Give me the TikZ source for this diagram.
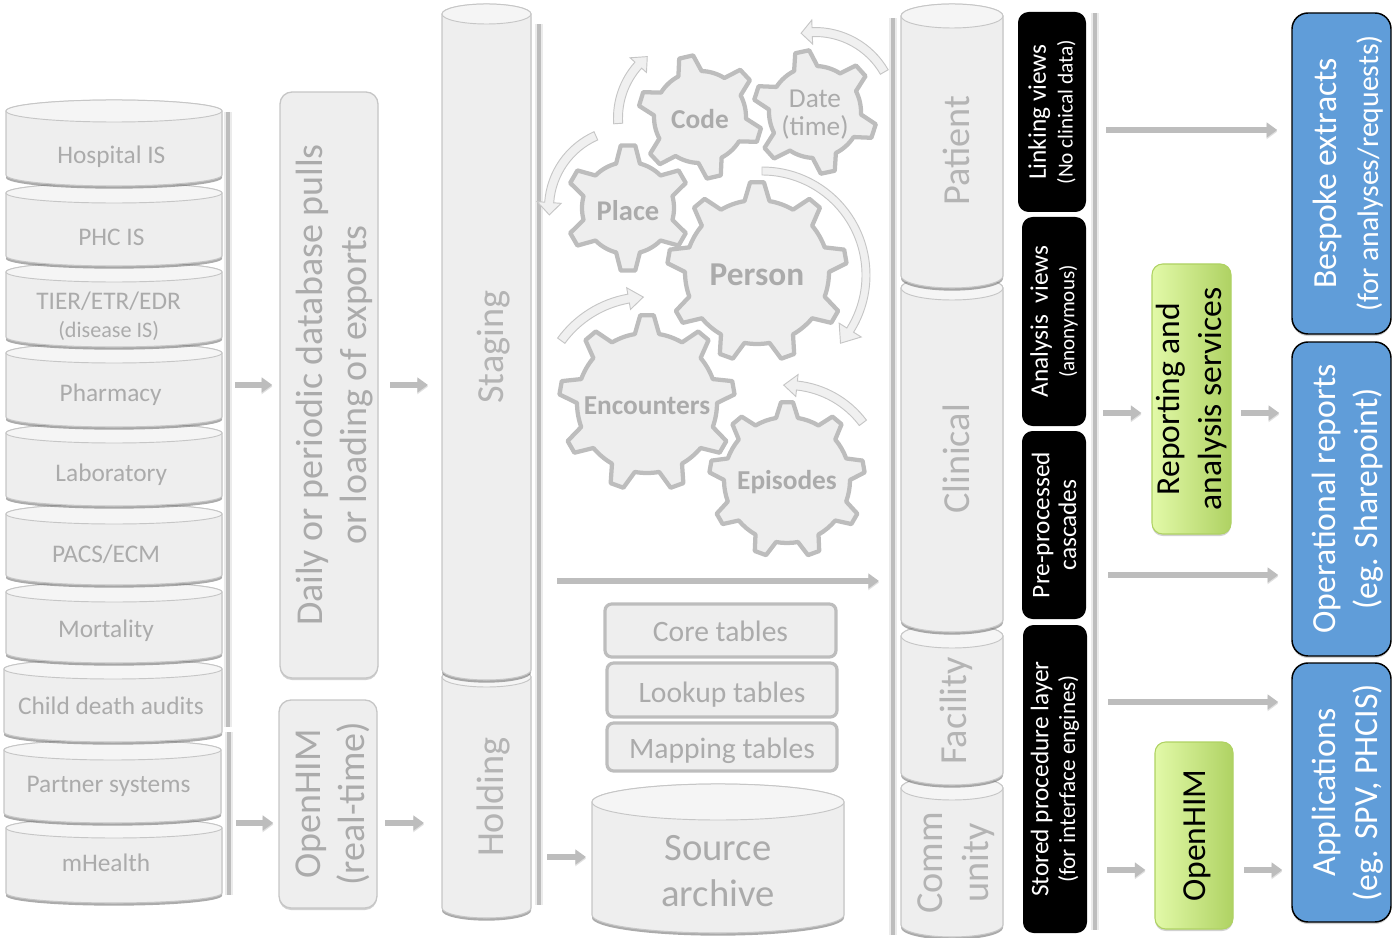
\documentclass[tikz,border=0pt]{standalone}
\usepackage{fontspec}
\usepackage{xcolor}
\setmainfont{Carlito}
\usetikzlibrary{arrows.meta,shadows}

\definecolor{panelGrey}{HTML}{EEEEEE}
\definecolor{lidGrey}{HTML}{F5F5F5}
\definecolor{edgeGrey}{HTML}{C6C6C6}
\definecolor{barGrey}{HTML}{BDBDBD}
\definecolor{labelGrey}{HTML}{ABABAB}
\definecolor{blueBox}{HTML}{609DD9}
\definecolor{greenLight}{HTML}{E2F9A8}
\definecolor{greenDark}{HTML}{AFD263}

% name, x0, x1, y of lid, y of base, lid radius, y of label, label
\newcommand{\drum}[9][]{
  \node (#2) [drumspot,minimum width={(#4-#3)*0.75pt},minimum height={(#6-#5)*0.75pt}] at ({(#3+#4)/2},{(#5+#6)/2}) {};
  \filldraw[drumbody] (#3,#5) -- (#3,#6-#7) arc[start angle=180,end angle=0,x radius={(#4-#3)/2},y radius=#7]
     -- (#4,#5) arc[start angle=0,end angle=-180,x radius={(#4-#3)/2},y radius=#7] -- cycle;
  \filldraw[drumlid] ({(#3+#4)/2},#5) ellipse[x radius={(#4-#3)/2},y radius=#7];
  \node (#2-label) [drumlabel,#1] at ({(#3+#4)/2},#8) {#9};
}
% name, cx, cy, body radius, tip radius, teeth, first tooth, label
\newcommand{\gear}[8]{
  \pgfmathsetmacro{\gs}{360/#6}
  \filldraw[gearbody,shift={(#2,#3)}] ({#7-0.25*\gs}:#4)
    \foreach \t in {0,...,\numexpr#6-1\relax}{
      -- ({#7+\t*\gs-0.11*\gs}:#5) -- ({#7+\t*\gs+0.11*\gs}:#5) -- ({#7+\t*\gs+0.25*\gs}:#4)
      arc[start angle={#7+\t*\gs+0.25*\gs},end angle={#7+\t*\gs+0.75*\gs},radius=#4]
    } -- cycle;
  \node (#1) [gearlabel] at (#2,#3) {#8};
}
% cx, cy, radius, tail angle, head angle, tip angle, band width, head half width
\newcommand{\bent}[8]{
  \filldraw[bentarrow,shift={(#1,#2)}] (#4:#3+#7/2) arc[start angle=#4,end angle=#5,radius=#3+#7/2]
    -- (#5:#3+#8) -- (#6:#3) -- (#5:#3-#8) -- (#5:#3-#7/2)
    arc[start angle=#5,end angle=#4,radius=#3-#7/2] -- cycle;
}

\begin{document}
\begin{tikzpicture}[x=0.75pt,y=-0.75pt,
   drumspot/.style={inner sep=0pt,outer sep=0pt},
   drumbody/.style={fill=panelGrey,draw=edgeGrey,line width=0.8pt,
      drop shadow={shadow xshift=0pt,shadow yshift=-2pt,opacity=0.55,fill=black!60}},
   drumlid/.style={fill=lidGrey,draw=edgeGrey,line width=0.7pt},
   drumlabel/.style={text=labelGrey,align=center,font=\fontsize{19}{21}\selectfont},
   tall/.style={rotate=90,yshift=-3pt,font=\fontsize{28.7}{35}\selectfont,text=labelGrey!90},
   graybox/.style={rotate=90,draw=edgeGrey,fill=panelGrey,line width=1pt,rounded corners=9pt,
      align=center,text=labelGrey,inner sep=0pt,font=\fontsize{28.5}{33}\selectfont,
      drop shadow={shadow xshift=0pt,shadow yshift=-1.5pt,opacity=0.3,fill=black!60}},
   tablebox/.style={draw=barGrey,fill=panelGrey,line width=2.4pt,rounded corners=5pt,
      text=labelGrey,inner sep=0pt,text depth=4pt,font=\fontsize{22.2}{26}\selectfont},
   viewbox/.style={rotate=90,fill=black,rounded corners=8pt,align=center,text=white,inner sep=0pt,
      font=\fontsize{19}{20}\selectfont},
   greenbox/.style={rotate=90,draw=greenDark,line width=0.8pt,left color=greenLight,right color=greenDark,
      rounded corners=8pt,align=center,text=black,inner sep=0pt,font=\fontsize{25.2}{31}\selectfont,
      drop shadow={shadow xshift=0pt,shadow yshift=-1.5pt,opacity=0.3,fill=black!60}},
   bluebox/.style={rotate=90,draw=black,fill=blueBox,line width=1.1pt,rounded corners=12pt,
      align=center,text=white,inner sep=0pt,font=\fontsize{25.3}{31.5}\selectfont,
      drop shadow={shadow xshift=0pt,shadow yshift=-1.5pt,opacity=0.3,fill=black!60}},
   sidebar/.style={draw=barGrey,line width=3.6pt,preaction={draw=black!8,line width=5.5pt}},
   gearbody/.style={fill=panelGrey,draw=barGrey,line width=3.2pt,line join=round},
   gearlabel/.style={text=labelGrey,align=center,inner sep=0pt,yshift=-1.8pt,font=\fontsize{20.5}{21}\selectfont},
   bentarrow/.style={fill=black!6,draw=edgeGrey,line width=0.7pt,line join=miter},
   flow/.style={draw=barGrey,line width=4.5pt,-{Triangle[length=8pt,width=11pt]},
      preaction={draw=black!12,transform canvas={yshift=-1.2pt}}}]
\useasboundingbox (0,0) rectangle (1393,938);

% grey bars
\draw[sidebar] (228,112) -- (228,727);
\draw[sidebar] (229,732) -- (229,895);
\draw[sidebar] (539,24) -- (539,905);
\draw[sidebar] (893,18) -- (893,935);
\draw[sidebar] (1095,13) -- (1095,930);

% source systems, bottom first
\drum[xshift=-6pt]{mhealth}{6}{222}{828}{903}{10}{863}{mHealth}
\drum[xshift=-3pt]{partner}{4}{221}{750}{823}{10}{786}{Partner systems}
\drum[xshift=-1.5pt]{audits}{4}{222}{669}{742}{10}{706}{Child death audits}
\drum[xshift=-6pt]{mortality}{6}{222}{592}{663}{10}{631}{Mortality}
\drum[xshift=-6pt]{pacs}{6}{222}{514}{585}{10}{554}{PACS/ECM}
\drum[xshift=-2pt]{laboratory}{6}{222}{433}{506}{10}{475}{Laboratory}
\drum[xshift=-2.5pt]{pharmacy}{6}{222}{353}{427}{10}{395}{Pharmacy}
\drum[xshift=-4pt]{tier}{6}{222}{272}{347}{10}{316}{TIER/ETR/EDR\\{\fontsize{16.6}{21}\selectfont (disease IS)}}
\drum[xshift=-2pt]{phc}{6}{222}{193}{266}{10}{237}{PHC IS}
\drum[xshift=-2pt]{hospital}{6}{222}{111}{186}{11}{157}{Hospital IS}

\node (pulls) [graybox,minimum width=439.5pt,minimum height=73.5pt] at (329,385) {\rule{0pt}{27.5pt}Daily or periodic database pulls\\or loading of exports};
\node (realtime) [graybox,minimum width=156pt,minimum height=73.5pt] at (328,804) {\rule{0pt}{26pt}OpenHIM\\(real-time)};

\drum[tall,yshift=-2.5pt]{holding}{442}{531}{677}{918}{10}{797}{Holding}
\drum[tall,yshift=-2.5pt]{staging}{442}{531}{14}{680}{10}{347}{Staging}

% the gears
\gear{code}{700}{117}{46}{62}{6}{17}{\textbf{Code}}
\gear{date}{815}{112}{46}{62}{6}{18}{Date\\(time)}
\gear{place}{628}{208}{46}{63}{6}{30}{\fontsize{21.4}{23}\selectfont\textbf{Place}}
\gear{person}{757}{272}{72}{90}{9}{30}{\fontsize{25}{27}\selectfont\textbf{Person}}
\gear{encounters}{647}{403}{70}{88}{9}{30}{\textbf{Encounters}}
\gear{episodes}{787}{480}{63}{78}{9}{30}{\textbf{Episodes}}

\bent{815}{112}{80}{330}{268}{260}{9}{12}
\bent{697}{118}{79}{176}{222}{231}{9}{11}
\bent{628}{208}{79}{246}{184}{175}{9}{12}
\bent{762}{275}{104}{270}{392}{401}{8}{13}
\bent{647}{403}{106}{216}{260}{268}{9}{11}
\bent{787}{480}{95}{323}{276}{268}{9}{11}

\node (core) [tablebox,text height=20pt,minimum width=173.25pt,minimum height=39.75pt] at (720.5,630.5) {Core tables};
\node (lookup) [tablebox,text height=22pt,minimum width=172.5pt,minimum height=40.5pt] at (722,690) {Lookup tables};
\node (mapping) [tablebox,text height=20.5pt,minimum width=172.5pt,minimum height=36pt] at (722,747) {Mapping tables};
\drum[font=\fontsize{29}{34}\selectfont]{archive}{592}{844}{802}{933}{18}{871}{Source\\archive}

% warehouse schemas, bottom first
\drum[tall,align=center]{community}{901}{1003}{788}{937}{12}{863}{Comm\\unity}
\drum[tall]{facility}{901}{1003}{636}{785}{12}{711}{Facility}
\drum[tall]{clinical}{901}{1003}{288}{632}{12}{459}{Clinical}
\drum[tall]{patient}{901}{1003}{16}{288}{12}{151}{Patient}

\node (linking) [viewbox,minimum width=150pt,minimum height=51pt] at (1052,112) {Linking views\\{\fontsize{16}{20}\selectfont (No clinical data)}};
\node (analysis) [viewbox,minimum width=156.75pt,minimum height=48pt] at (1054,321.5) {Analysis~~views\\{\fontsize{15.8}{20}\selectfont (anonymous)}};
\node (cascades) [viewbox,minimum width=141pt,minimum height=48pt] at (1054,525) {Pre-processed\\cascades};
\node (stored) [viewbox,minimum width=231pt,minimum height=48pt] at (1055,779) {Stored procedure layer\\{\fontsize{17.4}{20}\selectfont (for interface engines)}};

\node (reporting) [greenbox,minimum width=202.5pt,minimum height=59.25pt] at (1191.5,399) {Reporting and\\analysis services};
\node (openhim) [greenbox,minimum width=140.25pt,minimum height=58.5pt] at (1194,835.5) {\rule{0pt}{21pt}OpenHIM};

\node (bespoke) [bluebox,minimum width=240.75pt,minimum height=74.25pt] at (1341.5,173.5) {\rule{0pt}{27pt}Bespoke extracts\\{\fontsize{22.3}{31.5}\selectfont (for analyses/requests)}};
\node (operational) [bluebox,minimum width=235.5pt,minimum height=74.25pt] at (1341.5,499) {\rule{0pt}{27pt}Operational reports\\(eg. Sharepoint)};
\node (applications) [bluebox,minimum width=194.25pt,minimum height=74.25pt] at (1341.5,792.5) {\rule{0pt}{27pt}Applications\\(eg. SPV, PHCIS)};

% flow arrows
\foreach \nm/\tx/\ty/\target/\gap in {srcA/235/385/pulls.north/7,pullsOut/390/385/staging.west/14,
   srcB/236/823/realtime.north/5,realtimeOut/385/823/holding.west/18,holdingOut/547/857/archive.west/6,
   stagingOut/557/581/clinical.west/22,linkOut/1106/130/bespoke.north/14,viewOut/1103/413/reporting.north/10,
   reportOut/1241/413/operational.north/12,cascadeOut/1108/575/operational.north/13,
   storedOut/1108/702/applications.north/13,procOut/1107/870/openhim.north/9,himOut/1244/870/applications.north/9}{
  \coordinate (\nm) at (\tx,\ty);
  \draw[flow,shorten >=\gap*0.75pt] (\nm) -- (\nm -| \target);
}
\end{tikzpicture}
\end{document}
